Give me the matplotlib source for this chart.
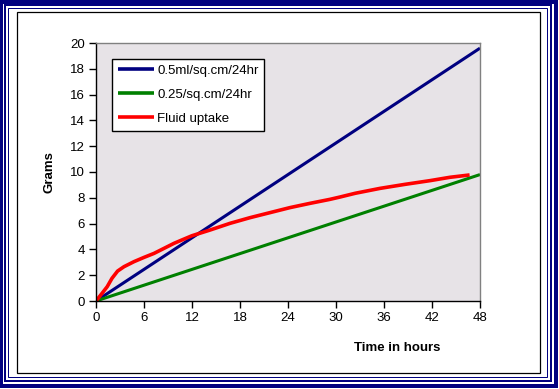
import matplotlib
matplotlib.use("Agg")
import matplotlib.pyplot as plt
from matplotlib.patches import Rectangle

# ---- data ----
time_lines = [0, 48]
rate_05 = [0, 19.6]      # 0.5ml/sq.cm/24hr
rate_025 = [0, 9.8]      # 0.25/sq.cm/24hr

fluid_t = [0, 0.6, 1.4, 2.0, 2.7, 3.5, 4.75, 6.0, 7.25, 8.5, 9.75, 11.0, 12.0,
           14.25, 16.75, 19.25, 21.75, 24.25, 26.75, 29.25, 30.5, 32.4, 35.5,
           38.6, 41.75, 44.25, 46.7]
fluid_g = [0, 0.47, 1.11, 1.76, 2.32, 2.66, 3.05, 3.38, 3.69, 4.08, 4.47, 4.8, 5.06,
           5.5, 6.02, 6.46, 6.85, 7.24, 7.57, 7.88, 8.06, 8.35, 8.73,
           9.04, 9.33, 9.59, 9.77]

xticks = [0, 6, 12, 18, 24, 30, 36, 42, 48]
yticks = [0, 2, 4, 6, 8, 10, 12, 14, 16, 18, 20]
labels = ["0.5ml/sq.cm/24hr", "0.25/sq.cm/24hr", "Fluid uptake"]
colors = ["#000080", "#008000", "#FF0000"]

W, H = 559, 389
plt.rcParams['font.family'] = ['Liberation Sans', 'DejaVu Sans']
fig = plt.figure(figsize=(W / 100, H / 100), dpi=100)
fig.patch.set_facecolor("white")

def px(x, y):
    return x / W, 1 - y / H

L, R, T, B = 96, 480, 43, 301
ax = fig.add_axes([L / W, 1 - B / H, (R - L) / W, (B - T) / H])
ax.set_facecolor("#E7E3E7")

ax.plot(time_lines, rate_05, color=colors[0], lw=2.2, label=labels[0], solid_capstyle="butt")
ax.plot(time_lines, rate_025, color=colors[1], lw=2.2, label=labels[1], solid_capstyle="butt")
ax.plot(fluid_t, fluid_g, color=colors[2], lw=2.6, label=labels[2], solid_capstyle="butt")

ax.set_xlim(0, 48)
ax.set_ylim(0, 20)
ax.set_xticks(xticks)
ax.set_yticks(yticks)
ax.tick_params(direction="out", length=5, width=1, color="black", labelsize=9.5, pad=3)
for s in ["left", "bottom"]:
    ax.spines[s].set_color("black")
    ax.spines[s].set_linewidth(1)
for s in ["top", "right"]:
    ax.spines[s].set_color("#808080")
    ax.spines[s].set_linewidth(1)

ax.text((397 - L) / (R - L), (B - 348) / (B - T), "Time in hours", transform=ax.transAxes,
        ha="center", va="center", fontsize=9.5, fontweight="bold")
ax.text((50 - L) / (R - L), 0.5, "Grams", transform=ax.transAxes, rotation=90,
        ha="center", va="center", fontsize=9.5, fontweight="bold")

leg = ax.legend(loc="upper left", bbox_to_anchor=px(112, 59), bbox_transform=fig.transFigure,
                frameon=True, fancybox=False, framealpha=1, edgecolor="black",
                fontsize=9.5, handlelength=2.8, handletextpad=0.2, labelspacing=0.9,
                borderpad=0.42, borderaxespad=0)
leg.get_frame().set_linewidth(1)
for line in leg.get_lines():
    line.set_linewidth(2.6)

# black inner frame
x0, y0 = px(17, 373)
fig.add_artist(Rectangle((x0, y0), 523 / W, 361 / H, transform=fig.transFigure,
                         fill=False, edgecolor="black", lw=0.9))
# navy multi-line border
def navy_rect(l, t, r, b, lwpx):
    xa, ya = px(l, b)
    fig.add_artist(Rectangle((xa, ya), (r - l) / W, (b - t) / H, transform=fig.transFigure,
                             fill=False, edgecolor="#000080", lw=lwpx * 0.72))
navy_rect(1.5, 1.5, 556, 386, 4)
navy_rect(5, 5, 550.5, 380.5, 2)
navy_rect(7.5, 7.5, 547, 376.5, 1)

fig.savefig("out.png", dpi=100, facecolor="white")
